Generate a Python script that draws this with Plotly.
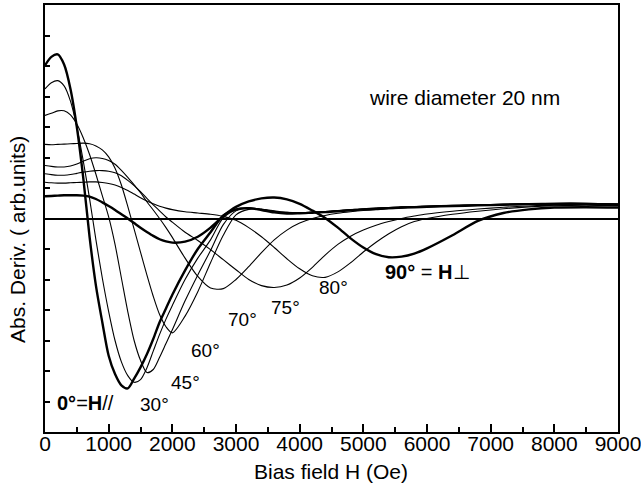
import plotly.graph_objects as go

# Bias field grid (Oe)
field_oe = [0, 100, 200, 300, 400, 500, 600, 700, 800, 900, 1000, 1100, 1200, 1300, 1400,
            1500, 1600, 1700, 1800, 1900, 2000,
            2200, 2400, 2600, 2800, 3000, 3200, 3400, 3600, 3800, 4000, 4200, 4400, 4600,
            4800, 5000, 5200, 5400, 5600, 5800, 6000,
            6400, 6800, 7200, 7600, 8000, 8500, 9000]

deriv_0 = [5.02, 5.30, 5.38, 5.05, 4.25, 3.00, 1.35, -0.60, -2.20, -3.40, -4.50, -5.10, -5.47, -5.57,
           -5.25, -4.88, -4.45, -3.95, -3.40, -2.95, -2.50,
           -1.70, -1.00, -0.45, 0.10, 0.30, 0.34, 0.28, 0.20, 0.16, 0.17, 0.19, 0.21, 0.24,
           0.27, 0.30, 0.32, 0.34, 0.36, 0.37, 0.38,
           0.41, 0.43, 0.45, 0.47, 0.48, 0.48, 0.46]

deriv_30 = [4.25, 4.45, 4.52, 4.35, 3.85, 3.00, 1.90, 0.65, -0.70, -1.95, -3.05, -4.00, -4.70, -5.15,
            -5.37, -5.28, -4.90, -4.35, -3.80, -3.30, -2.85,
            -2.00, -1.30, -0.70, 0.02, 0.28, 0.35, 0.30, 0.22, 0.18, 0.18, 0.20, 0.22, 0.25,
            0.28, 0.30, 0.33, 0.35, 0.37, 0.38, 0.40,
            0.42, 0.44, 0.46, 0.48, 0.49, 0.49, 0.47]

deriv_45 = [3.38, 3.45, 3.53, 3.53, 3.40, 3.10, 2.65, 2.10, 1.45, 0.75, 0.05, -0.85, -1.95, -3.05,
            -4.00, -4.65, -5.05, -4.95, -4.55, -4.10, -3.65,
            -2.70, -1.85, -1.05, -0.20, 0.25, 0.33, 0.30, 0.24, 0.20, 0.19, 0.21, 0.23, 0.26,
            0.29, 0.31, 0.34, 0.36, 0.38, 0.39, 0.41,
            0.43, 0.45, 0.47, 0.48, 0.50, 0.50, 0.47]

deriv_60 = [2.43, 2.42, 2.43, 2.44, 2.45, 2.46, 2.47, 2.45, 2.38, 2.25, 2.02, 1.65, 1.10, 0.40,
            -0.35, -1.10, -1.85, -2.55, -3.15, -3.55, -3.75,
            -3.20, -2.40, -1.45, -0.55, 0.12, 0.30, 0.30, 0.25, 0.20, 0.19, 0.20, 0.22, 0.25,
            0.28, 0.31, 0.33, 0.35, 0.37, 0.38, 0.40,
            0.42, 0.44, 0.46, 0.48, 0.49, 0.49, 0.46]

deriv_70 = [1.74, 1.71, 1.69, 1.69, 1.72, 1.79, 1.88, 1.96, 1.99, 1.97, 1.90, 1.78, 1.58, 1.35,
            1.10, 0.85, 0.55, 0.28, 0.00, -0.30, -0.62,
            -1.30, -1.90, -2.28, -2.30, -2.00, -1.58, -1.12, -0.70, -0.38, -0.15, 0.00, 0.10, 0.17,
            0.22, 0.26, 0.29, 0.32, 0.34, 0.36, 0.38,
            0.41, 0.43, 0.45, 0.47, 0.48, 0.48, 0.46]

deriv_75 = [1.47, 1.44, 1.42, 1.42, 1.44, 1.48, 1.52, 1.55, 1.57, 1.57, 1.55, 1.50, 1.40, 1.25,
            1.08, 0.88, 0.66, 0.45, 0.25, 0.05, -0.12,
            -0.45, -0.72, -1.02, -1.35, -1.68, -2.00, -2.20, -2.26, -2.18, -1.95, -1.60, -1.20, -0.85,
            -0.58, -0.38, -0.22, -0.10, 0.00, 0.08, 0.15,
            0.24, 0.31, 0.37, 0.41, 0.44, 0.45, 0.43]

deriv_80 = [1.19, 1.17, 1.16, 1.16, 1.17, 1.18, 1.19, 1.20, 1.20, 1.18, 1.15, 1.10, 1.02, 0.92,
            0.80, 0.68, 0.57, 0.48, 0.40, 0.34, 0.29,
            0.22, 0.18, 0.14, 0.07, -0.06, -0.30, -0.60, -0.95, -1.32, -1.65, -1.88, -1.93, -1.75,
            -1.45, -1.10, -0.78, -0.50, -0.27, -0.10, 0.00,
            0.14, 0.24, 0.32, 0.38, 0.42, 0.44, 0.42]

deriv_90 = [0.73, 0.74, 0.75, 0.76, 0.76, 0.76, 0.75, 0.72, 0.64, 0.53, 0.41, 0.28, 0.14, 0.00,
            -0.15, -0.30, -0.44, -0.57, -0.68, -0.75, -0.79,
            -0.76, -0.60, -0.30, 0.08, 0.38, 0.56, 0.66, 0.69, 0.63, 0.48, 0.26, 0.02, -0.30,
            -0.65, -0.95, -1.17, -1.27, -1.25, -1.15, -0.98,
            -0.55, -0.08, 0.18, 0.30, 0.36, 0.37, 0.36]

x_tick_vals = [0, 1000, 2000, 3000, 4000, 5000, 6000, 7000, 8000, 9000]
x_tick_text = ["0", "1000", "2000", "3000", "4000", "5000", "6000", "7000", "8000", "9000"]

FONT = "Arial, Liberation Sans, Helvetica, sans-serif"

fig = go.Figure()

thin = [("30°", deriv_30), ("45°", deriv_45), ("60°", deriv_60),
        ("70°", deriv_70), ("75°", deriv_75), ("80°", deriv_80)]
thick = [("0°", deriv_0), ("90°", deriv_90)]

for name, ys in thin:
    fig.add_trace(go.Scatter(x=field_oe, y=ys, mode="lines", name=name, cliponaxis=True,
                             line=dict(color="black", width=1.1, shape="spline", smoothing=0.8)))
for name, ys in thick:
    fig.add_trace(go.Scatter(x=field_oe, y=ys, mode="lines", name=name, cliponaxis=True,
                             line=dict(color="black", width=2.4, shape="spline", smoothing=0.8)))

labels = [
    ("<b>0°</b>=<b>H</b>//", 55, 403, "left", 20),
    ("30°", 154, 404, "center", 19),
    ("45°", 185, 382, "center", 19),
    ("60°", 205, 350, "center", 19),
    ("70°", 242, 320, "center", 19),
    ("75°", 285, 307, "center", 19),
    ("80°", 333, 287, "center", 19),
    ("<b>90°</b> = <b>H</b>⊥", 383, 272, "left", 20),
    ("wire diameter 20 nm", 367, 97, "left", 21),
]

L, R, T, B = 45, 618, 5, 432
W, H = 641, 493

def px_to_paper(px, py):
    return (px - L) / (R - L), (B - py) / (B - T)

for text, px, py, anchor, size in labels:
    xp, yp = px_to_paper(px, py)
    fig.add_annotation(x=xp, y=yp, xref="paper", yref="paper", text=text, showarrow=False,
                       xanchor=anchor, yanchor="middle",
                       font=dict(family=FONT, size=size, color="black"))

# axis titles
xp, yp = px_to_paper(331, 471)
fig.add_annotation(x=xp, y=yp, xref="paper", yref="paper", text="Bias field H (Oe)",
                   showarrow=False, xanchor="center", yanchor="middle",
                   font=dict(family=FONT, size=21, color="black"))
xp, yp = px_to_paper(18, 240)
fig.add_annotation(x=xp, y=yp, xref="paper", yref="paper", text="Abs. Deriv. ( arb.units)",
                   showarrow=False, textangle=-90, xanchor="center", yanchor="middle",
                   font=dict(family=FONT, size=21, color="black"))

fig.update_layout(
    width=W, height=H,
    margin=dict(l=L, r=W - R, t=T, b=H - B, pad=0, autoexpand=False),
    paper_bgcolor="white", plot_bgcolor="white",
    showlegend=False,
    font=dict(family=FONT, size=20, color="black"),
)
fig.update_xaxes(
    range=[0, 9000], tickvals=x_tick_vals, ticktext=x_tick_text,
    ticks="inside", ticklen=8, tickwidth=2, tickcolor="black",
    minor=dict(dtick=500, ticks="inside", ticklen=5, tickwidth=1.5, tickcolor="black"),
    showline=True, linecolor="black", linewidth=2, mirror=True,
    showgrid=False, zeroline=False, automargin=False,
    ticklabelstandoff=-8, ticklabeloverflow="allow",
    tickfont=dict(family=FONT, size=21, color="black"),
)
fig.update_yaxes(
    range=[-7, 7], dtick=1, tick0=0,
    ticks="inside", ticklen=5, tickwidth=1.5, tickcolor="black",
    showticklabels=False, automargin=False,
    showline=True, linecolor="black", linewidth=2, mirror=True,
    showgrid=False, zeroline=True, zerolinecolor="black", zerolinewidth=2,
)

fig.write_html("out.html",
               config={"displayModeBar": False},
               post_script="document.body.style.margin='0px';document.body.style.padding='0px';")
